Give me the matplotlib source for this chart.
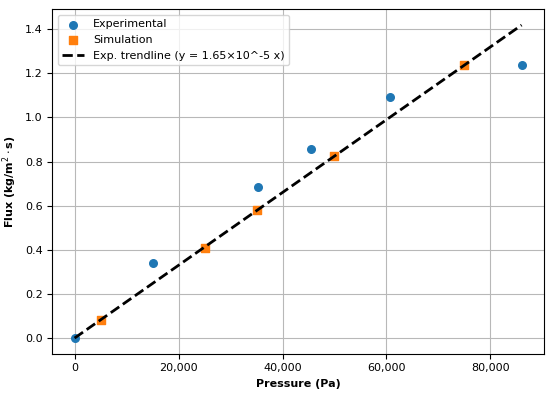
import numpy as np
import matplotlib.pyplot as plt
from matplotlib.ticker import FuncFormatter

# dados
exp_p = [0, 15000, 35300, 45400, 60700, 86000]
exp_flux = [0.0, 0.34, 0.685, 0.855, 1.095, 1.24]

sim_p = [5000, 25000, 35000, 50000, 75000]
sim_flux = [0.08, 0.41, 0.58, 0.825, 1.24]

k = 1.65e-5
trend_p = [0, 86000]

fig = plt.figure(figsize=(5.5, 3.93), dpi=100)
ax = fig.add_axes([0.095, 0.1, 0.894, 0.876])

ax.scatter(exp_p, exp_flux, color="#1f77b4", s=30, marker="o", label="Experimental", zorder=3)
ax.scatter(sim_p, sim_flux, color="#ff7f0e", s=30, marker="s", label="Simulation", zorder=3)
tp = np.array(trend_p)
ax.plot(tp, k * tp, color="black", linestyle="--", linewidth=2,
        label="Exp. trendline (y = 1.65×10^-5 x)", zorder=4)

ax.set_xlabel("Pressure (Pa)", fontsize=8, fontweight="bold")
ax.set_ylabel("Flux (kg/m$^2\\cdot$s)", fontsize=8, fontweight="bold")
ax.xaxis.set_major_formatter(FuncFormatter(lambda v, pos: f"{v:,.0f}"))
ax.tick_params(labelsize=8)
ax.grid(True, color="#b8b8b8", linewidth=0.8)
ax.legend(loc="upper left", fontsize=8)

fig.savefig("out.png", dpi=100)
